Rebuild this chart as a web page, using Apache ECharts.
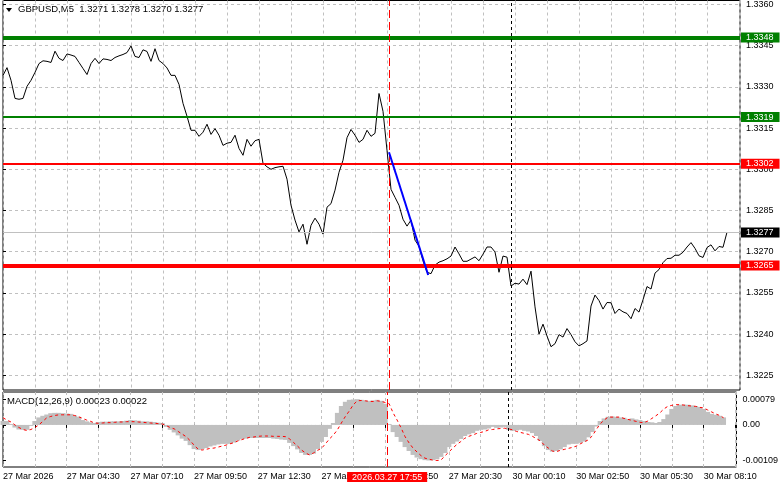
<!DOCTYPE html>
<html>
<head>
<meta charset="utf-8">
<script src="https://cdn.jsdelivr.net/npm/echarts@6/dist/echarts.min.js"></script>
<style>
  html, body { margin: 0; padding: 0; background: #fff; }
  #chart { width: 781px; height: 489px; }
</style>
</head>
<body>
<div id="chart"></div>
<script>
// one sample every 2 M5 bars (10 min), x value = bar index
const step = 2;

const closePrices = [
  1.33342, 1.33370, 1.33324, 1.33258, 1.33255, 1.33258, 1.33302, 1.33324, 1.33353, 1.33385,
  1.33395, 1.33393, 1.33389, 1.33430, 1.33404, 1.33396, 1.33420, 1.33416, 1.33411, 1.33389,
  1.33367, 1.33345, 1.33385, 1.33404, 1.33385, 1.33402, 1.33400, 1.33396, 1.33407, 1.33413,
  1.33418, 1.33425, 1.33449, 1.33411, 1.33407, 1.33435, 1.33429, 1.33393, 1.33439, 1.33396,
  1.33385, 1.33369, 1.33342, 1.33342, 1.33309, 1.33240, 1.33193, 1.33142, 1.33142, 1.33120,
  1.33135, 1.33164, 1.33127, 1.33148, 1.33124, 1.33087, 1.33095, 1.33098, 1.33124, 1.33076,
  1.33051, 1.33109, 1.33084, 1.33104, 1.33109, 1.33022, 1.33009, 1.33000, 1.33006, 1.33009,
  1.33011, 1.32964, 1.32869, 1.32815, 1.32772, 1.32800, 1.32727, 1.32796, 1.32822, 1.32800,
  1.32764, 1.32862, 1.32875, 1.32924, 1.32989, 1.33033, 1.33115, 1.33145, 1.33124, 1.33098,
  1.33109, 1.33142, 1.33120, 1.33131, 1.33276, 1.33211, 1.33069, 1.32927, 1.32898, 1.32869,
  1.32818, 1.32793, 1.32815, 1.32742, 1.32720, 1.32667, 1.32625, 1.32620, 1.32651, 1.32662,
  1.32667, 1.32674, 1.32684, 1.32717, 1.32692, 1.32665, 1.32665, 1.32673, 1.32681, 1.32667,
  1.32691, 1.32717, 1.32717, 1.32699, 1.32625, 1.32684, 1.32680, 1.32575, 1.32585, 1.32582,
  1.32600, 1.32580, 1.32629, 1.32499, 1.32400, 1.32436, 1.32393, 1.32354, 1.32365, 1.32398,
  1.32389, 1.32420, 1.32398, 1.32372, 1.32357, 1.32365, 1.32375, 1.32502, 1.32542, 1.32522,
  1.32491, 1.32515, 1.32514, 1.32475, 1.32491, 1.32481, 1.32475, 1.32456, 1.32493, 1.32480,
  1.32525, 1.32573, 1.32564, 1.32622, 1.32635, 1.32660, 1.32675, 1.32676, 1.32687, 1.32687,
  1.32698, 1.32717, 1.32733, 1.32712, 1.32685, 1.32679, 1.32715, 1.32725, 1.32703, 1.32719,
  1.32716, 1.32771
];

const macdHist = [
  0.00012, 0.00012, 0.00003, -0.00008, -0.00014, -0.00015, -0.00015, -0.00003, 0.00012, 0.00023,
  0.00028, 0.00032, 0.00036, 0.00037, 0.00037, 0.00036, 0.00035, 0.00034, 0.00029, 0.00025,
  0.00015, 0.00011, 0.00008, 0.00006, 0.00009, 0.00010, 0.00010, 0.00011, 0.00011, 0.00011,
  0.00012, 0.00013, 0.00015, 0.00014, 0.00013, 0.00011, 0.00011, 0.00010, 0.00009, 0.00007,
  0.00006, -0.00006, -0.00015, -0.00023, -0.00032, -0.00042, -0.00049, -0.00062, -0.00074, -0.00077,
  -0.00074, -0.00071, -0.00066, -0.00063, -0.00060, -0.00058, -0.00058, -0.00058, -0.00054, -0.00048,
  -0.00043, -0.00042, -0.00040, -0.00040, -0.00040, -0.00040, -0.00040, -0.00040, -0.00042, -0.00043,
  -0.00045, -0.00046, -0.00055, -0.00065, -0.00075, -0.00086, -0.00092, -0.00092, -0.00088, -0.00074,
  -0.00052, -0.00037, -0.00012, 0.00006, 0.00037, 0.00058, 0.00071, 0.00077, 0.00078, 0.00079,
  0.00077, 0.00075, 0.00074, 0.00075, 0.00077, 0.00074, 0.00065, 0.00003, -0.00022, -0.00037,
  -0.00052, -0.00068, -0.00080, -0.00092, -0.00100, -0.00105, -0.00108, -0.00109, -0.00108, -0.00105,
  -0.00098, -0.00086, -0.00068, -0.00058, -0.00051, -0.00043, -0.00034, -0.00029, -0.00025, -0.00018,
  -0.00015, -0.00014, -0.00011, -0.00006, -0.00009, -0.00008, -0.00006, -0.00015, -0.00018, -0.00017,
  -0.00015, -0.00018, -0.00020, -0.00025, -0.00034, -0.00049, -0.00065, -0.00077, -0.00082, -0.00080,
  -0.00075, -0.00068, -0.00060, -0.00058, -0.00058, -0.00055, -0.00051, -0.00038, -0.00022, -0.00005,
  0.00012, 0.00020, 0.00025, 0.00026, 0.00025, 0.00023, 0.00022, 0.00018, 0.00020, 0.00017,
  0.00015, 0.00012, 0.00009, 0.00008, 0.00006, 0.00009, 0.00018, 0.00032, 0.00049, 0.00058,
  0.00062, 0.00062, 0.00062, 0.00060, 0.00058, 0.00055, 0.00049, 0.00040, 0.00034, 0.00031,
  0.00028, 0.00023
];

const macdSignal = [
  0.00022, 0.00015, 0.00009, 0.00000, -0.00008, -0.00014, -0.00017, -0.00014, -0.00008, 0.00000,
  0.00011, 0.00022, 0.00026, 0.00029, 0.00031, 0.00031, 0.00031, 0.00031, 0.00029, 0.00025,
  0.00020, 0.00015, 0.00011, 0.00006, 0.00005, 0.00006, 0.00007, 0.00007, 0.00008, 0.00009,
  0.00009, 0.00010, 0.00010, 0.00010, 0.00009, 0.00008, 0.00007, 0.00006, 0.00005, 0.00004,
  0.00003, -0.00002, -0.00008, -0.00012, -0.00020, -0.00028, -0.00036, -0.00048, -0.00062, -0.00074,
  -0.00077, -0.00075, -0.00072, -0.00071, -0.00068, -0.00065, -0.00062, -0.00058, -0.00054, -0.00049,
  -0.00045, -0.00041, -0.00038, -0.00037, -0.00035, -0.00034, -0.00034, -0.00034, -0.00035, -0.00035,
  -0.00035, -0.00036, -0.00043, -0.00054, -0.00065, -0.00077, -0.00086, -0.00092, -0.00086, -0.00078,
  -0.00072, -0.00058, -0.00043, -0.00031, -0.00015, 0.00006, 0.00026, 0.00043, 0.00062, 0.00074,
  0.00075, 0.00074, 0.00072, 0.00072, 0.00074, 0.00072, 0.00069, 0.00065, 0.00037, 0.00015,
  -0.00009, -0.00036, -0.00055, -0.00071, -0.00083, -0.00094, -0.00102, -0.00105, -0.00108, -0.00109,
  -0.00108, -0.00095, -0.00083, -0.00071, -0.00060, -0.00051, -0.00041, -0.00035, -0.00031, -0.00026,
  -0.00023, -0.00020, -0.00015, -0.00014, -0.00012, -0.00011, -0.00010, -0.00012, -0.00015, -0.00020,
  -0.00023, -0.00026, -0.00029, -0.00035, -0.00042, -0.00049, -0.00062, -0.00071, -0.00080, -0.00082,
  -0.00078, -0.00075, -0.00072, -0.00069, -0.00065, -0.00058, -0.00052, -0.00046, -0.00034, -0.00015,
  0.00003, 0.00015, 0.00024, 0.00024, 0.00024, 0.00024, 0.00020, 0.00017, 0.00014, 0.00011,
  0.00008, 0.00007, 0.00012, 0.00020, 0.00028, 0.00037, 0.00049, 0.00057, 0.00060, 0.00062,
  0.00062, 0.00061, 0.00059, 0.00058, 0.00057, 0.00054, 0.00052, 0.00046, 0.00040, 0.00034,
  0.00029, 0.00022
];

// time labels every 32 bars, starting at bar 0
const timeLabels = [
  "27 Mar 2026", "27 Mar 04:30", "27 Mar 07:10", "27 Mar 09:50", "27 Mar 12:30", "27 Mar 15:10",
  "27 Mar 17:50", "27 Mar 20:30", "30 Mar 00:10", "30 Mar 02:50", "30 Mar 05:30", "30 Mar 08:10"
];
const barsPerLabel = 32;
const barsPerGrid = 16;
const lastBar = 368.5;

const priceTicks = [1.3225, 1.3240, 1.3255, 1.3270, 1.3285, 1.3300, 1.3315, 1.3330, 1.3345, 1.3360];
const macdTicks = [-0.00109, 0, 0.00079];

const resistLevels = [1.3348, 1.3319];
const supportLevels = [1.3302, 1.3265];
const lastPrice = 1.3277;

const selectedBar = 193;
const selectedLabel = "2026.03.27 17:55";
const weekBreakBar = 254;
const trendStart = [193, 1.33062];
const trendEnd = [212.6, 1.32615];

const titleText = "GBPUSD,M5  1.3271 1.3278 1.3270 1.3277";
const macdText = "MACD(12,26,9) 0.00023 0.00022";

const font = "Liberation Sans";
const gridLine = { color: "#c0c0c0", type: [3, 3], width: 1 };
const boxPad = [1, 6, 0, 5];

const chart = echarts.init(document.getElementById("chart"), null, { renderer: "canvas" });

const levelLine = (value, color, width) => ({
  yAxis: value,
  lineStyle: { color: color, width: width, type: "solid" },
  label: {
    show: true, position: "end", distance: 1,
    formatter: value.toFixed(4), color: "#fff", backgroundColor: color,
    padding: boxPad, fontFamily: font, fontSize: 9
  }
});

const option = {
  animation: false,
  backgroundColor: "#fff",
  grid: [
    { left: 3, right: 41, top: 0, height: 390, show: true, borderColor: "#000", borderWidth: 1 },
    { left: 3, right: 41, top: 392, height: 75, show: true, borderColor: "#000", borderWidth: 1 }
  ],
  xAxis: [
    {
      gridIndex: 0, type: "value", min: 0, max: lastBar, interval: barsPerGrid,
      axisLine: { show: false }, axisTick: { show: false }, axisLabel: { show: false },
      splitLine: { show: true, lineStyle: gridLine }
    },
    {
      gridIndex: 1, type: "value", min: 0, max: lastBar, interval: barsPerGrid,
      axisLine: { show: false },
      axisTick: { show: true, length: 3, lineStyle: { color: "#000" } },
      axisLabel: {
        show: true, align: "left", margin: 5, color: "#000", fontFamily: font, fontSize: 9,
        formatter: v => (v % barsPerLabel === 0 ? timeLabels[v / barsPerLabel] || "" : "")
      },
      splitLine: { show: true, lineStyle: gridLine }
    }
  ],
  yAxis: [
    {
      gridIndex: 0, type: "value", position: "right", min: 1.3219636, max: 1.3361455,
      axisLine: { show: false },
      axisTick: { show: true, length: 3, customValues: priceTicks, lineStyle: { color: "#000" } },
      axisLabel: {
        show: true, margin: 6, color: "#000", fontFamily: font, fontSize: 9,
        customValues: priceTicks, formatter: v => v.toFixed(4)
      },
      splitLine: { show: true, lineStyle: gridLine }
    },
    {
      gridIndex: 1, type: "value", position: "right", min: -0.00129, max: 0.00101,
      axisLine: { show: false },
      axisTick: { show: true, length: 3, customValues: macdTicks, lineStyle: { color: "#000" } },
      axisLabel: {
        show: true, margin: 6, color: "#000", fontFamily: font, fontSize: 9,
        customValues: macdTicks, formatter: v => (v === 0 ? "0.00" : v.toFixed(5))
      },
      splitLine: { show: false }
    }
  ],
  series: [
    {
      name: "price", type: "line", xAxisIndex: 0, yAxisIndex: 0,
      data: closePrices.map((p, k) => [k * step, p]),
      showSymbol: false, silent: true,
      lineStyle: { color: "#000", width: 1 },
      z: 3,
      markLine: {
        silent: true, symbol: ["none", "none"], precision: 6,
        data: [
          {
            yAxis: lastPrice,
            lineStyle: { color: "#c0c0c0", width: 1, type: "solid" },
            label: {
              show: true, position: "end", distance: 1, formatter: lastPrice.toFixed(4),
              color: "#fff", backgroundColor: "#000", padding: boxPad, fontFamily: font, fontSize: 9
            }
          },
          levelLine(resistLevels[0], "#008000", 4),
          levelLine(resistLevels[1], "#008000", 2),
          levelLine(supportLevels[0], "#ff0000", 2),
          levelLine(supportLevels[1], "#ff0000", 4),
          { xAxis: selectedBar, lineStyle: { color: "#ff0000", width: 1, type: [8, 4] }, label: { show: false } },
          { xAxis: weekBreakBar, lineStyle: { color: "#000", width: 1, type: [3, 3] }, label: { show: false } },
          [
            { coord: trendStart, lineStyle: { color: "#0000ff", width: 2, type: "solid" }, label: { show: false } },
            { coord: trendEnd }
          ]
        ]
      }
    },
    {
      name: "MACD", type: "bar", xAxisIndex: 1, yAxisIndex: 1,
      data: macdHist.map((v, k) => [k * step, v]),
      barWidth: 5, silent: true,
      itemStyle: { color: "#c0c0c0" },
      markLine: {
        silent: true, symbol: ["none", "none"], precision: 6,
        data: [
          {
            xAxis: selectedBar, lineStyle: { color: "#ff0000", width: 1, type: [8, 4] },
            label: {
              show: true, position: "start", distance: 5, formatter: selectedLabel,
              color: "#fff", backgroundColor: "#ff0000", padding: [1, 5, 0, 5], fontFamily: font, fontSize: 9
            }
          },
          { xAxis: weekBreakBar, lineStyle: { color: "#000", width: 1, type: [3, 3] }, label: { show: false } }
        ]
      }
    },
    {
      name: "Signal", type: "line", xAxisIndex: 1, yAxisIndex: 1,
      data: macdSignal.map((v, k) => [k * step, v]),
      showSymbol: false, silent: true,
      lineStyle: { color: "#ff0000", width: 1, type: [3, 3] }
    }
  ],
  graphic: [
    { type: "polygon", shape: { points: [[6, 8], [12, 8], [9, 12]] }, style: { fill: "#000" } },
    {
      type: "text", left: 18, top: 4,
      style: { text: titleText, fill: "#000", font: "9.5px 'Liberation Sans'" }
    },
    {
      type: "text", left: 7, top: 396,
      style: { text: macdText, fill: "#000", font: "9.5px 'Liberation Sans'" }
    }
  ]
};

chart.setOption(option);
</script>
</body>
</html>
